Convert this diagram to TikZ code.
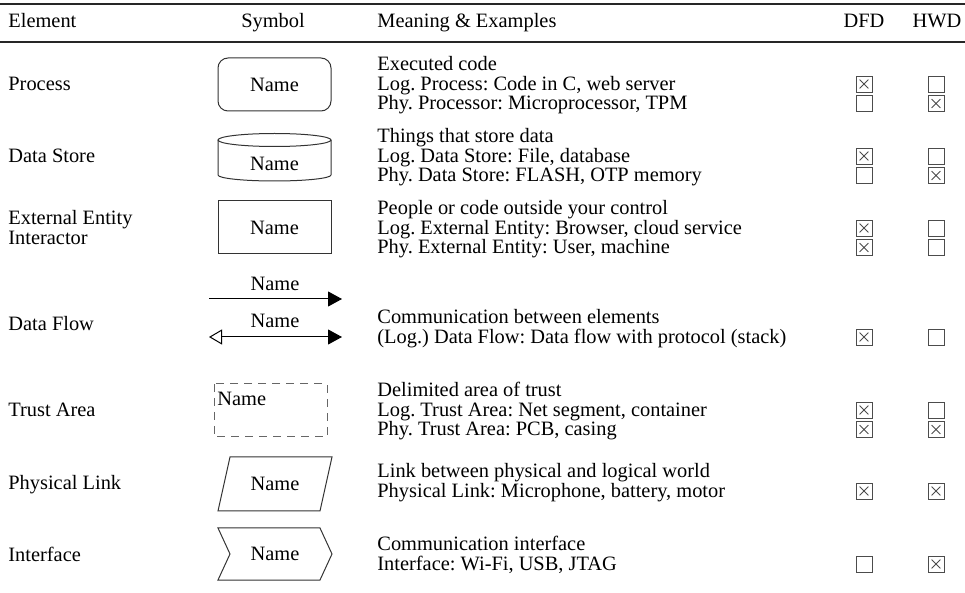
\documentclass[tikz,border=0pt]{standalone}
\usepackage{fontspec}
\setmainfont{Liberation Serif}
\usepackage{tikz}
\usetikzlibrary{arrows.meta,calc}
\frenchspacing
\tikzstyle{lbl}=[anchor=base west, inner sep=0pt]
\tikzstyle{hdr}=[anchor=base, inner sep=0pt]
\tikzstyle{sym}=[draw=black!80, line width=.5pt]
\tikzstyle{flow}=[line width=.5pt]
\tikzstyle{unticked}=[draw=black!70, line width=.45pt, minimum size=8pt, inner sep=0pt]
\tikzstyle{ticked}=[unticked, path picture={
 \draw[black!70, line width=.4pt]
  ([shift={(1.8pt,1.8pt)}]path picture bounding box.south west) -- ([shift={(-1.8pt,-1.8pt)}]path picture bounding box.north east)
  ([shift={(1.8pt,-1.8pt)}]path picture bounding box.north west) -- ([shift={(-1.8pt,1.8pt)}]path picture bounding box.south east);
}]
\newcommand{\tickrow}[4]{
 \node[#3] (#1d) at (864,#2) {};
 \node[#4] (#1h) at (936,#2) {};
}

\begin{document}
\begin{tikzpicture}[x=.5pt, y=-.5pt, font=\fontsize{10.2}{12}\selectfont]
 \useasboundingbox (0,0) rectangle (965,593);
% header
 \draw[line width=.9pt, black!85] (0,4) -- (965,4);
 \node[lbl] (hel) at (8,28) {Element};
 \node[hdr] (hsym) at (273,28) {Symbol};
 \node[lbl] (hmean) at (377,28) {Meaning \& Examples};
 \node[hdr] (hdfd) at (864,28) {DFD};
 \node[hdr] (hhwd) at (937,28) {HWD};
 \draw[line width=.55pt, black!85] (0,42) -- (965,42);
%
% process
 \node[lbl] (eproc) at (8,91) {Process};
 \draw[sym, rounded corners=5pt] (218,58) rectangle (331,111);
 \node (nproc) at (274.5,84.5) {Name};
 \node[lbl] (proca) at (377,71) {Executed code};
 \node[lbl] (procb) at (377,90.5) {Log. Process: Code in C, web server};
 \node[lbl] (procc) at (377,110) {Phy. Processor: Microprocessor, TPM};
 \tickrow{procb}{84}{ticked}{unticked}
 \tickrow{procc}{103.5}{unticked}{ticked}
%
% data store
 \node[lbl] (estore) at (8,162.5) {Data Store};
 \draw[sym] (274.5,140) ellipse [x radius=56.5, y radius=6.5];
 \draw[sym] (218,140) -- (218,175) arc[start angle=180, end angle=0, x radius=56.5, y radius=6] -- (331,140);
 \node (nstore) at (274.5,164) {Name};
 \node[lbl] (storea) at (377,143) {Things that store data};
 \node[lbl] (storeb) at (377,162.5) {Log. Data Store: File, database};
 \node[lbl] (storec) at (377,182) {Phy. Data Store: FLASH, OTP memory};
 \tickrow{storeb}{156}{ticked}{unticked}
 \tickrow{storec}{175.5}{unticked}{ticked}
%
% external entity
 \node[lbl] (eext) at (8,225) {External Entity};
 \node[lbl] (eint) at (8,244.5) {Interactor};
 \draw[sym] (218,201) rectangle (331,254);
 \node (next) at (274.5,228) {Name};
 \node[lbl] (exta) at (377,215) {People or code outside your control};
 \node[lbl] (extb) at (377,234.5) {Log. External Entity: Browser, cloud service};
 \node[lbl] (extc) at (377,254) {Phy. External Entity: User, machine};
 \tickrow{extb}{228}{ticked}{unticked}
 \tickrow{extc}{247.5}{ticked}{unticked}
%
% data flow
 \node[lbl] (eflow) at (8,331) {Data Flow};
 \coordinate (fla) at (209,299);
 \coordinate (flb) at (342,299);
 \coordinate (flc) at (209,337);
 \coordinate (fld) at (342,337);
 \draw[flow, -{Triangle[length=7pt,width=7.5pt]}] (fla) -- (flb);
 \draw[flow, {Triangle[open,length=6.5pt,width=7.5pt]}-{Triangle[length=7pt,width=7.5pt]}] (flc) -- (fld);
 \node (nfla) at (275,284) {Name};
 \node (nflb) at (275,321) {Name};
 \node[lbl] (flowa) at (377,324) {Communication between elements};
 \node[lbl] (flowb) at (377,343.5) {(Log.) Data Flow: Data flow with protocol (stack)};
 \tickrow{flowb}{337}{ticked}{unticked}
%
% trust area
 \node[lbl] (etrust) at (8,416.5) {Trust Area};
 \draw[sym, black!60, dash pattern=on 4pt off 3pt] (214,384) rectangle (327,437);
 \node[lbl] (ntrust) at (217,406) {Name};
 \node[lbl] (trusta) at (377,397) {Delimited area of trust};
 \node[lbl] (trustb) at (377,416.5) {Log. Trust Area: Net segment, container};
 \node[lbl] (trustc) at (377,436) {Phy. Trust Area: PCB, casing};
 \tickrow{trustb}{410}{ticked}{unticked}
 \tickrow{trustc}{429.5}{ticked}{ticked}
%
% physical link
 \node[lbl] (elink) at (8,489) {Physical Link};
 \draw[sym] (218,511) -- (230,457) -- (332,457) -- (320,511) -- cycle;
 \node (nlink) at (275,484) {Name};
 \node[lbl] (linka) at (377,478) {Link between physical and logical world};
 \node[lbl] (linkb) at (377,497.5) {Physical Link: Microphone, battery, motor};
 \tickrow{linkb}{491}{ticked}{ticked}
%
% interface
 \node[lbl] (eif) at (8,561) {Interface};
 \draw[sym] (218,528) -- (320,528) -- (332,554) -- (320,580) -- (218,580) -- (230,554) -- cycle;
 \node (nif) at (275,554) {Name};
 \node[lbl] (ifa) at (377,551) {Communication interface};
 \node[lbl] (ifb) at (377,570.5) {Interface: Wi-Fi, USB, JTAG};
 \tickrow{ifb}{564}{unticked}{ticked}
\end{tikzpicture}
\end{document}
